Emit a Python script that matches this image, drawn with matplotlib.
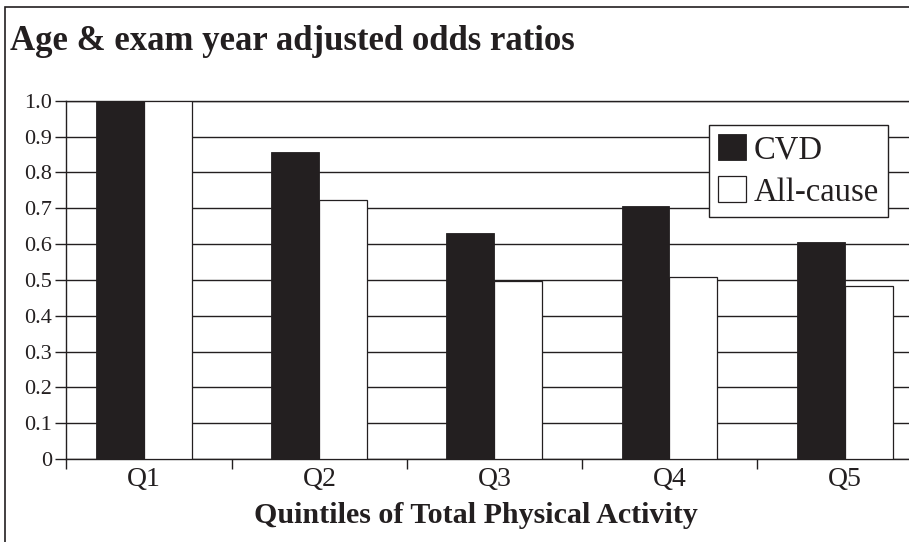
import matplotlib
matplotlib.use("Agg")
import matplotlib.pyplot as plt
from matplotlib.patches import Rectangle
import numpy as np

categories = ["Q1", "Q2", "Q3", "Q4", "Q5"]
cvd = [1.0, 0.856, 0.632, 0.707, 0.607]
all_cause = [1.0, 0.724, 0.497, 0.508, 0.482]
ytick_vals = [0, 0.1, 0.2, 0.3, 0.4, 0.5, 0.6, 0.7, 0.8, 0.9, 1.0]
ytick_labels = ["0", "0.1", "0.2", "0.3", "0.4", "0.5", "0.6", "0.7", "0.8", "0.9", "1.0"]
series_names = ["CVD", "All-cause"]
title = "Age & exam year adjusted odds ratios"
xlabel = "Quintiles of Total Physical Activity"

plt.rcParams['font.family'] = ['Liberation Serif', 'DejaVu Serif']
DARK = '#231f20'

W, H = 909, 542
fig = plt.figure(figsize=(W / 100, H / 100), dpi=100)
fig.patch.set_facecolor('white')

ax = fig.add_axes([66 / W, (H - 459) / H, (W - 66) / W, (459 - 100.7) / H])

x = np.arange(len(categories))
bw = 0.274
xlo, xhi = -0.447, 4.368

ax.set_axisbelow(True)
ax.yaxis.grid(True, color=DARK, linewidth=1.0)
ax.bar(x - bw / 2, cvd, width=bw, color=DARK, edgecolor=DARK, linewidth=0.6,
       label=series_names[0], zorder=3)
ax.bar(x + bw / 2, all_cause, width=bw, color='white', edgecolor=DARK, linewidth=0.9,
       label=series_names[1], zorder=3)

ax.set_xlim(xlo, xhi)
ax.set_ylim(0, 1.0)
ax.set_yticks(ytick_vals)
ax.set_yticklabels(ytick_labels)
ax.tick_params(axis='y', direction='out', length=8, width=1.0, color=DARK,
               labelsize=16, pad=2, labelcolor=DARK)

ax.set_xticks([xlo, 0.5, 1.5, 2.5, 3.5])
ax.set_xticklabels([])
ax.tick_params(axis='x', which='major', direction='out', length=7.2, width=1.0, color=DARK)
ax.set_xticks(x, minor=True)
ax.set_xticklabels(categories, minor=True)
ax.tick_params(axis='x', which='minor', length=0, labelsize=20, pad=5.5, labelcolor=DARK)

for s in ['left', 'bottom', 'top']:
    ax.spines[s].set_color(DARK)
    ax.spines[s].set_linewidth(1.0)
ax.spines['right'].set_visible(False)

leg = ax.legend(loc='upper left', bbox_to_anchor=(709 / W, 1 - 125 / H),
                bbox_transform=fig.transFigure, fontsize=23.5, frameon=True,
                fancybox=False, framealpha=1, edgecolor=DARK,
                handlelength=0.85, handleheight=0.85, handletextpad=0.25,
                borderpad=0.28, labelspacing=0.33, borderaxespad=0)
leg.get_frame().set_linewidth(1.0)
for t in leg.get_texts():
    t.set_color(DARK)

fig.text(10 / W, 1 - 50 / H, title, fontsize=25, fontweight='bold',
         va='baseline', ha='left', color=DARK)
fig.text(476 / W, 1 - 523 / H, xlabel, fontsize=21.6, fontweight='bold',
         va='baseline', ha='center', color=DARK)

fig.add_artist(Rectangle((5 / W, -0.5), 2, (H - 7) / H + 0.5, fill=False,
                         edgecolor=DARK, linewidth=1.2, transform=fig.transFigure,
                         clip_on=False))

fig.savefig('out.png', dpi=100)
